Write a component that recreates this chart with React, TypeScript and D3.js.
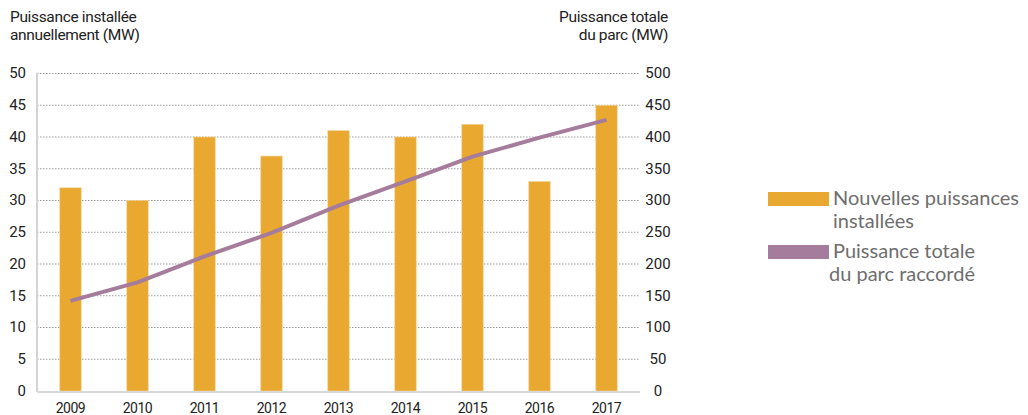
import { useEffect } from 'react';
import * as d3 from 'd3';

const years = ['2009', '2010', '2011', '2012', '2013', '2014', '2015', '2016', '2017'];
// new capacity installed each year (MW), left axis
const installed = [32, 30, 40, 37, 41, 40, 42, 33, 45];
// total connected capacity (MW), right axis
const total = [142, 171, 212, 249, 292, 330, 369, 399, 427];
const leftTicks = [0, 5, 10, 15, 20, 25, 30, 35, 40, 45, 50];
const rightTicks = [0, 50, 100, 150, 200, 250, 300, 350, 400, 450, 500];

const ORANGE = '#e9a931';
const PURPLE = '#a57c9b';
const tickFont = 'Roboto, sans-serif';

export default function App() {
  useEffect(() => {
    document.body.style.margin = '0';
  }, []);

  const width = 1028;
  const height = 415;
  const left = 37;
  const right = 640;
  const top = 73.5;
  const bottom = 391;

  const x = d3.scaleBand<string>().domain(years).range([left, right]).paddingInner(0.68).paddingOuter(0.34);
  const yL = d3.scaleLinear().domain([0, 50]).range([bottom, top]);
  const yR = d3.scaleLinear().domain([0, 500]).range([bottom, top]);

  const line = d3
    .line<number>()
    .x((_, i) => (x(years[i]) as number) + x.bandwidth() / 2)
    .y(d => yR(d));

  return (
    <svg width={width} height={height} style={{ display: 'block' }}>
      <rect width={width} height={height} fill="#fff" />

      {/* axis titles */}
      <g fontFamily={tickFont} fontSize={15.5} fill="#222" letterSpacing={-0.35}>
        <text x={10} y={22}>Puissance installée</text>
        <text x={10} y={40}>annuellement (MW)</text>
        <text x={668} y={22} textAnchor="end">Puissance totale</text>
        <text x={668} y={40} textAnchor="end">du parc (MW)</text>
      </g>

      {/* gridlines */}
      {leftTicks.filter(t => t > 0).map(t => (
        <line key={t} x1={left} x2={right} y1={yL(t)} y2={yL(t)} stroke="#999" strokeWidth={1} strokeDasharray="1.5 1.5" />
      ))}

      {/* bars */}
      {installed.map((v, i) => (
        <rect
          key={years[i]}
          x={x(years[i])}
          y={yL(v)}
          width={x.bandwidth()}
          height={bottom - yL(v)}
          fill={ORANGE}
          stroke="#f3d49a"
          strokeWidth={0.6}
        />
      ))}

      {/* axis lines */}
      <line x1={left} x2={left} y1={top - 1} y2={bottom + 1} stroke="#d4d4d4" strokeWidth={2} />
      <line x1={left} x2={right} y1={bottom + 1} y2={bottom + 1} stroke="#d8d8d8" strokeWidth={2} />

      {/* total capacity line */}
      <path d={line(total) ?? ''} fill="none" stroke={PURPLE} strokeWidth={4} />

      {/* left ticks */}
      <g fontFamily={tickFont} fontSize={15} fill="#222" textAnchor="end">
        {leftTicks.map(t => (
          <text key={t} x={26} y={yL(t)} dy="0.32em">{t}</text>
        ))}
      </g>

      {/* right ticks */}
      <g fontFamily={tickFont} fontSize={15} fill="#222" textAnchor="middle">
        {rightTicks.map(t => (
          <text key={t} x={658} y={yR(t)} dy="0.32em">{t}</text>
        ))}
      </g>

      {/* x labels */}
      <g fontFamily={tickFont} fontSize={14} fill="#222" textAnchor="middle" letterSpacing={-0.5}>
        {years.map(yr => (
          <text key={yr} x={(x(yr) as number) + x.bandwidth() / 2} y={413}>{yr}</text>
        ))}
      </g>

      {/* legend */}
      <g fontFamily="Lato, sans-serif" fontSize={20} fill="#6e6e6e">
        <rect x={768} y={192} width={61} height={14} fill={ORANGE} />
        <text x={833} y={205}>Nouvelles puissances</text>
        <text x={833} y={228}>installées</text>
        <rect x={768} y={245} width={61} height={14} fill={PURPLE} />
        <text x={833} y={258}>Puissance totale</text>
        <text x={829} y={281}>du parc raccordé</text>
      </g>
    </svg>
  );
}
